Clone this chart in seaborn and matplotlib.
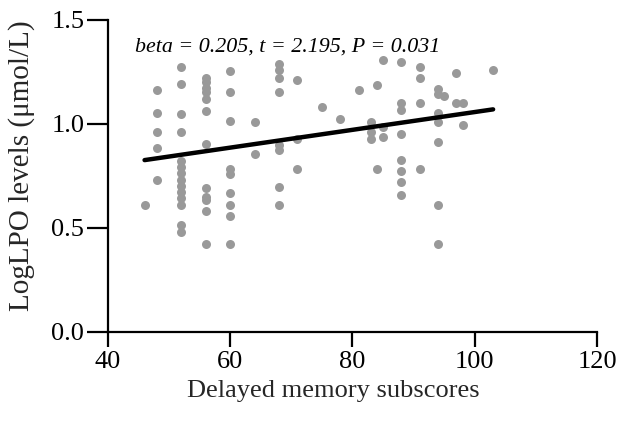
import numpy as np
import pandas as pd
import matplotlib
matplotlib.use("Agg")
import matplotlib.pyplot as plt
import seaborn as sns

# Delayed memory subscores (x) and LogLPO levels (y), grouped by score
score_46 = [0.61]
score_48 = [1.16, 1.05, 0.96, 0.88, 0.73]
score_52 = [1.27, 1.19, 1.045, 0.96, 0.82, 0.79, 0.76, 0.73, 0.70, 0.67, 0.64, 0.61, 0.51, 0.48]
score_56 = [1.22, 1.20, 1.17, 1.15, 1.12, 1.06, 0.90, 0.69, 0.645, 0.63, 0.58, 0.42]
score_60 = [1.255, 1.15, 1.01, 0.78, 0.757, 0.668, 0.61, 0.556, 0.42]
score_64 = [1.005, 0.853]
score_68 = [1.286, 1.258, 1.221, 1.154, 0.898, 0.874, 0.697, 0.609]
score_71 = [1.21, 0.925, 0.782]
score_75 = [1.079]
score_78 = [1.024]
score_81 = [1.159]
score_83 = [1.005, 0.957, 0.925]
score_84 = [1.186, 0.782]
score_85 = [1.306, 0.983, 0.935]
score_88 = [1.298, 1.098, 1.066, 0.950, 0.825, 0.774, 0.718, 0.654]
score_91 = [1.274, 1.218, 1.098, 0.782]
score_94 = [1.165, 1.141, 1.053, 1.005, 0.913, 0.608, 0.42]
score_95 = [1.133]
score_97 = [1.242, 1.098]
score_98 = [1.098, 0.994]
score_103 = [1.258]

groups = {
    46: score_46, 48: score_48, 52: score_52, 56: score_56, 60: score_60,
    64: score_64, 68: score_68, 71: score_71, 75: score_75, 78: score_78,
    81: score_81, 83: score_83, 84: score_84, 85: score_85, 88: score_88,
    91: score_91, 94: score_94, 95: score_95, 97: score_97, 98: score_98,
    103: score_103,
}

x_ticks = [40, 60, 80, 100, 120]
y_ticks = [0.0, 0.5, 1.0, 1.5]
stats_text = "beta = 0.205, t = 2.195, P = 0.031"

rows = [(x, y) for x, ys in groups.items() for y in ys]
df = pd.DataFrame(rows, columns=["score", "loglpo"])

sns.set_theme(style="ticks")
plt.rcParams["font.family"] = ["Liberation Serif", "DejaVu Serif"]

fig = plt.figure(figsize=(6.2, 4.25), dpi=100)
ax = fig.add_axes([0.174, 0.22, 0.789, 0.734])

sns.regplot(
    data=df, x="score", y="loglpo", ax=ax, ci=None,
    scatter_kws=dict(color="#999999", s=42, linewidths=0, alpha=1, zorder=2),
    line_kws=dict(color="black", lw=3.2, zorder=3),
)

ax.set_xlim(40, 120)
ax.set_ylim(0, 1.5)
ax.set_xticks(x_ticks)
ax.set_yticks(y_ticks)
ax.set_yticklabels([f"{v:.1f}" for v in y_ticks])
ax.set_xlabel("Delayed memory subscores", fontsize=19)
ax.xaxis.set_label_coords(0.46, -0.155)
ax.set_ylabel("LogLPO levels (\u03bcmol/L)", fontsize=21)
ax.yaxis.set_label_coords(-0.15, 0.53)

for side in ["top", "right"]:
    ax.spines[side].set_visible(False)
for side in ["left", "bottom"]:
    ax.spines[side].set_linewidth(1.6)
    ax.spines[side].set_color("black")
    ax.spines[side].set_clip_on(False)
ax.tick_params(axis="both", width=1.6, color="black",
               labelsize=19, labelcolor="black", direction="out")
ax.tick_params(axis="y", length=15, pad=2)
ax.tick_params(axis="x", length=11, pad=3)

ax.text(44.4, 1.37, stats_text, fontsize=15.8, style="italic",
        ha="left", va="center", color="black")

fig.savefig("out.png", dpi=100)
